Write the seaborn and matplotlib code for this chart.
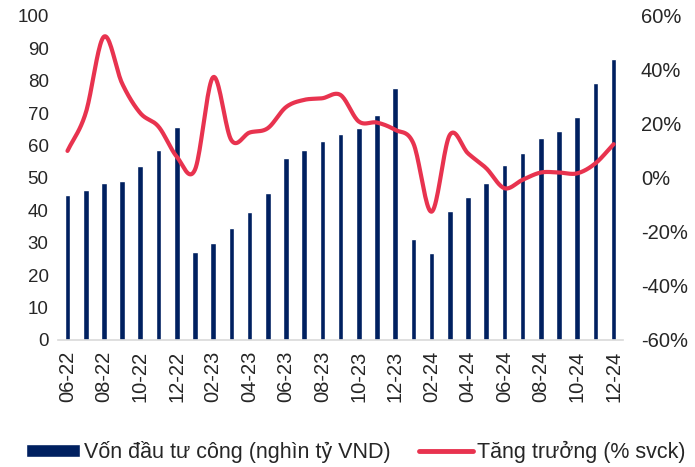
import numpy as np
import pandas as pd
import seaborn as sns
import matplotlib.pyplot as plt
from matplotlib.patches import Patch
from matplotlib.lines import Line2D

# monthly data 06-22 .. 12-24
months = [
    "06-22", "07-22", "08-22", "09-22", "10-22", "11-22", "12-22",
    "01-23", "02-23", "03-23", "04-23", "05-23", "06-23", "07-23", "08-23",
    "09-23", "10-23", "11-23", "12-23",
    "01-24", "02-24", "03-24", "04-24", "05-24", "06-24", "07-24", "08-24",
    "09-24", "10-24", "11-24", "12-24",
]
capital = [
    44.8, 46.3, 48.5, 48.9, 53.8, 58.6, 65.6,
    27.0, 30.0, 34.6, 39.5, 45.4, 56.3, 58.6, 61.5,
    63.6, 65.3, 69.3, 77.6,
    31.2, 26.9, 39.8, 44.1, 48.5, 54.0, 57.8, 62.4,
    64.6, 68.7, 79.3, 86.7,
]
growth = [
    10.0, 24.0, 52.3, 35.0, 24.0, 19.0, 7.9,
    3.0, 37.3, 14.0, 16.8, 18.4, 26.2, 28.9, 29.5,
    30.7, 20.9, 20.5, 17.8,
    12.8, -12.5, 15.9, 9.1, 3.6, -3.8, -0.7, 2.0,
    2.0, 1.7, 5.4, 12.5,
]

navy = "#002060"
red = "#E8334F"
grey = "#D9D9D9"

df = pd.DataFrame({"month": months, "capital": capital, "growth": growth})

sns.set_style("white")
plt.rcParams["font.family"] = ["Liberation Sans", "DejaVu Sans"]

fig = plt.figure(figsize=(6.95, 4.67), dpi=100)
ax = fig.add_axes([0.084, 0.272, 0.812, 0.694])

sns.barplot(data=df, x="month", y="capital", color=navy, width=0.31,
            saturation=1, ax=ax, order=months)
ax.set_xlim(-0.5, len(months) - 0.5)
ax.set_ylim(0, 100)
ax.set_yticks(np.arange(0, 101, 10))
ax.set_xlabel("")
ax.set_ylabel("")

# x labels every other month, tick marks at category boundaries
ax.set_xticks(np.arange(0, len(months), 2))
ax.set_xticklabels(months[::2], rotation=90, fontsize=14.5)
ax.set_xticks(np.arange(-0.5, len(months) - 0.5, 2), minor=True)
ax.tick_params(axis="x", which="major", length=0, pad=8)
ax.tick_params(axis="x", which="minor", length=5, color=grey, width=1.2)
ax.tick_params(axis="y", length=0, labelsize=13.5, pad=7)

for s in ["left", "right", "top"]:
    ax.spines[s].set_visible(False)
ax.spines["bottom"].set_color(grey)
ax.spines["bottom"].set_linewidth(1.2)

# growth line on the right axis, smoothed like the original
ax2 = ax.twinx()
x = np.arange(len(growth), dtype=float)
y = np.array(growth, dtype=float)
px = np.concatenate([[2 * x[0] - x[1]], x, [2 * x[-1] - x[-2]]])
py = np.concatenate([[2 * y[0] - y[1]], y, [2 * y[-1] - y[-2]]])
xs, ys = [], []
t = np.linspace(0, 1, 20, endpoint=False)
for i in range(1, len(px) - 2):
    p0, p1, p2, p3 = py[i - 1], py[i], py[i + 1], py[i + 2]
    ys.append(0.5 * (2 * p1 + (-p0 + p2) * t + (2 * p0 - 5 * p1 + 4 * p2 - p3) * t ** 2
                     + (-p0 + 3 * p1 - 3 * p2 + p3) * t ** 3))
    xs.append(px[i] + t)
xs.append([x[-1]])
ys.append([y[-1]])
ax2.plot(np.concatenate(xs), np.concatenate(ys), color=red, lw=3,
         solid_capstyle="round")
ax2.set_ylim(-60, 60)
ax2.set_yticks(np.arange(-60, 61, 20))
ax2.set_yticklabels([f"{v}%" for v in range(-60, 61, 20)])
ax2.tick_params(axis="y", length=0, labelsize=14.5, pad=13)
for s in ["left", "right", "top", "bottom"]:
    ax2.spines[s].set_visible(False)

handles = [
    Patch(facecolor=navy, label="Vốn đầu tư công (nghìn tỷ VND)"),
    Line2D([0], [0], color=red, lw=3.5, label="Tăng trưởng (% svck)"),
]
fig.legend(handles=handles, loc="lower center", bbox_to_anchor=(0.512, -0.033),
           ncol=2, frameon=False, fontsize=15.5, handlelength=2.5,
           handleheight=0.55, handletextpad=0.2, columnspacing=1.3)

plt.savefig("out.png", dpi=100)
